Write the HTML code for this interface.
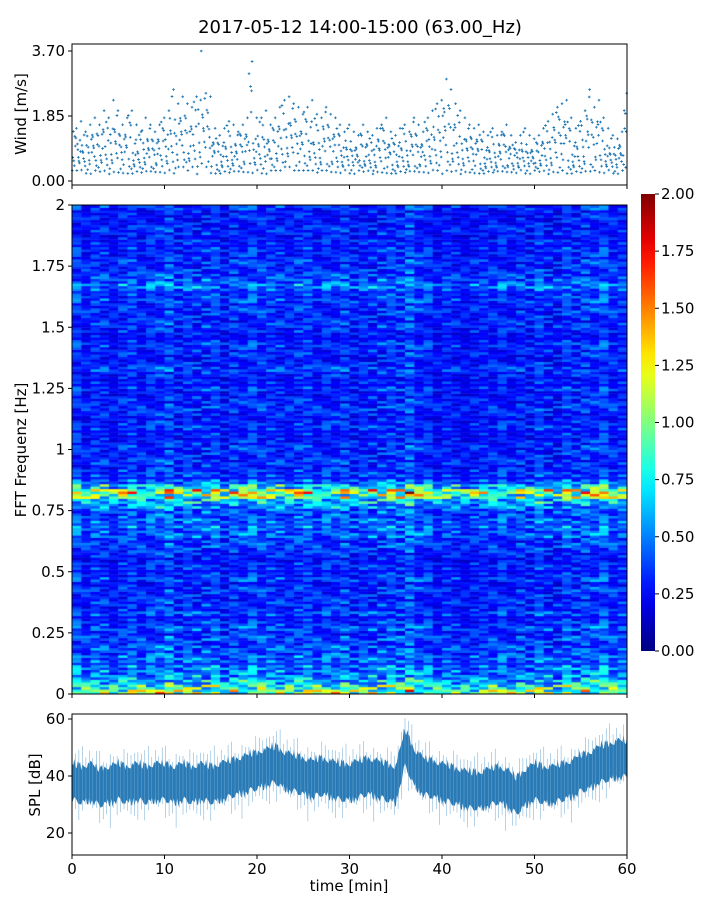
<!DOCTYPE html>
<html><head><meta charset="utf-8">
<style>
body{margin:0;background:#fff;width:720px;height:900px;overflow:hidden;font-family:"DejaVu Sans","Liberation Sans",sans-serif;}
#root{position:relative;width:720px;height:900px;}
svg text{font-family:"DejaVu Sans","Liberation Sans",sans-serif;}
canvas{position:absolute;left:72px;top:205px;}
</style></head>
<body>
<div id="root">
<canvas id="spec" width="555" height="489"></canvas>
<svg id="svg" width="720" height="900" style="position:absolute;left:0;top:0"></svg>
</div>
<script>
// ---------- data ----------
const windMid = [0.9,1.0,0.8,0.9,1.0,0.9,1.1,1.0,1.2,1.1,0.9,1.0,1.1,0.9,0.8,1.0,0.9,0.8,0.9,1.0,
1.1,1.3,1.2,1.4,1.3,1.2,1.4,1.6,1.5,1.4,0.8,0.7,0.8,0.9,0.9,0.8,0.9,1.0,1.1,1.0,
1.0,1.1,0.9,1.0,1.2,1.3,1.4,1.3,1.2,1.1,1.2,1.3,1.1,1.0,1.2,1.1,1.0,0.9,0.8,0.9,
0.8,0.7,0.9,0.8,0.7,0.8,0.9,1.0,0.8,0.7,0.8,0.9,0.8,1.0,0.9,0.8,1.0,1.1,1.2,1.3,
1.5,1.4,1.2,1.1,1.0,0.9,0.8,0.9,0.8,0.7,0.8,0.7,0.8,0.9,0.7,0.6,0.7,0.8,0.7,0.6,
0.7,0.8,0.9,1.0,1.1,1.2,1.3,1.0,0.8,0.9,1.0,1.2,1.1,1.3,1.0,0.8,0.7,0.6,0.7,0.9];
const windRange = [0.6,0.7,0.6,0.7,0.8,0.7,0.9,0.8,1.1,0.9,0.7,0.8,0.9,0.7,0.6,0.8,0.7,0.6,0.7,0.8,
0.9,1.3,1.0,1.0,0.9,0.9,1.0,2.1,1.0,1.0,0.7,0.6,0.7,0.8,0.7,0.6,0.7,0.8,2.3,0.8,
0.8,0.9,0.7,0.8,0.9,1.0,1.0,0.9,0.9,0.8,0.9,1.0,0.8,0.8,0.9,0.8,0.8,0.7,0.6,0.7,
0.6,0.6,0.7,0.6,0.6,0.7,0.7,0.8,0.6,0.6,0.7,0.7,0.6,0.8,0.7,0.6,0.8,0.9,1.0,1.0,
1.4,1.2,1.0,0.9,0.8,0.7,0.7,0.7,0.6,0.6,0.7,0.6,0.6,0.7,0.6,0.5,0.6,0.7,0.6,0.6,
0.6,0.7,0.8,0.9,1.0,1.0,1.0,0.8,0.7,0.8,1.0,1.4,1.0,1.0,0.8,0.7,0.6,0.6,0.7,1.6];
const freqProfile = [1.0,0.85,0.65,0.55,0.5,0.5,0.45,0.45,0.4,0.42,
0.35,0.4,0.32,0.42,0.35,0.32,0.4,0.32,0.35,0.32,
0.32,0.35,0.28,0.38,0.32,0.35,0.32,0.28,0.32,0.35,
0.38,0.35,0.45,0.42,0.5,0.45,0.4,0.42,0.55,0.65,
0.95,1.1,0.7,0.45,0.38,0.35,0.32,0.35,0.32,0.32,
0.35,0.32,0.28,0.32,0.35,0.32,0.28,0.32,0.35,0.32,
0.32,0.28,0.35,0.32,0.28,0.32,0.38,0.32,0.28,0.32,
0.32,0.35,0.32,0.28,0.32,0.35,0.32,0.32,0.35,0.32,
0.38,0.35,0.42,0.5,0.42,0.38,0.35,0.32,0.35,0.32,
0.32,0.35,0.32,0.28,0.32,0.32,0.28,0.3,0.28,0.35];
const timeFactor = [1.0,0.95,1.05,1.0,0.9,1.0,1.1,1.0,0.95,1.05,1.1,1.0,0.95,1.0,1.05,1.0,0.9,0.95,1.0,1.05,
1.1,1.05,1.0,1.0,1.05,1.1,1.0,0.95,1.0,1.0,0.95,0.9,1.0,1.05,1.0,1.1,1.15,1.0,0.95,0.9,
0.95,0.9,0.85,0.9,0.95,1.0,0.95,0.9,0.9,0.95,1.0,0.95,0.9,1.0,1.05,1.0,1.05,1.1,1.05,1.0];
const texture = [1.0,0.6,1.4,0.8,1.2,0.5,1.6,0.9,1.1,0.7,1.3,0.95,0.55,1.25,0.75,1.45,1.05,0.65,1.15];
const splMean = [38,37,38,36,37,38,37,38,37,38,38,37,38,37,38,37,38,39,40,41,
42,43,44,42,41,40,39,40,39,38,38,39,40,39,38,37,50,43,40,39,
38,37,36,35,35,36,37,36,33,36,38,37,37,38,39,41,42,44,45,46,46];
const windTicks = [0,1.85,3.7], windTickLabels=["0.00","1.85","3.70"];
const freqTicks = [0,0.25,0.5,0.75,1,1.25,1.5,1.75,2], freqTickLabels=["0","0.25","0.5","0.75","1","1.25","1.5","1.75","2"];
const cbTicks = [0,0.25,0.5,0.75,1,1.25,1.5,1.75,2];
const splTicks = [20,40,60];
const timeTicks = [0,10,20,30,40,50,60];

// ---------- scales ----------
const X0=72,X1=627;
const xT = t => X0 + (t/60)*(X1-X0);
const yW = v => 181 - v*(130/3.7);
const yF = f => 694 - f*(489/2);
const yC = v => 651 - v*(457/2);
const yS = v => 776 - (v-40)*2.85;
const NS='http://www.w3.org/2000/svg';
const svg=document.getElementById('svg');
function mk(tag,attrs,parent){const e=document.createElementNS(NS,tag);for(const k in attrs)e.setAttribute(k,attrs[k]);(parent||svg).appendChild(e);return e;}
function txt(x,y,s,size,anchor,parent){const e=mk('text',{x:x,y:y,'font-size':size,'text-anchor':anchor,fill:'#000'},parent);e.textContent=s;return e;}
function jet(v){v=Math.max(0,Math.min(1,v));const r=Math.min(4*v-1.5,-4*v+4.5),g=Math.min(4*v-0.5,-4*v+3.5),b=Math.min(4*v+0.5,-4*v+2.5);const c=x=>Math.round(255*Math.max(0,Math.min(1,x)));return `rgb(${c(r)},${c(g)},${c(b)})`;}
const tex = i => texture[((i%texture.length)+texture.length)%texture.length];

let t=txt(360,33,'2017-05-12 14:00-15:00 (63.00_Hz)',18,'middle');


// ---------- wind panel ----------
const gW=mk('g',{});

let wpath='';
windMid.forEach((m,i)=>{
  const lo=Math.max(0.15+0.1*tex(i*3),m-windRange[i]), hi=m+windRange[i];
  const N=9;
  for(let k=0;k<N;k++){
    const f=(tex(i*5+k*3)-0.5)/1.1;
    const v=(k===N-1)?hi:(k===0?lo:lo+(hi-lo)*Math.max(0,Math.min(1,f))*0.85+ (m-lo)*0.15);
    const x=xT(i*0.5+ (k+0.5)/N*0.5), y=yW(v);
    wpath+=`M${(x-1.3).toFixed(1)},${y.toFixed(1)}h2.6M${x.toFixed(1)},${(y-1.3).toFixed(1)}v2.6`;
  }
});
const wp=mk('path',{d:wpath,stroke:'#1f77b4','stroke-width':0.9,fill:'none'},gW);

mk('rect',{x:X0,y:44,width:X1-X0,height:141,fill:'none',stroke:'#000','stroke-width':1,});
windTicks.forEach((v,i)=>{mk('line',{x1:X0-4,x2:X0,y1:yW(v),y2:yW(v),stroke:'#000'});txt(X0-7,yW(v)+5,windTickLabels[i],15,'end');});
timeTicks.forEach(v=>mk('line',{x1:xT(v),x2:xT(v),y1:185,y2:189,stroke:'#000'}));
t=txt(0,0,'Wind [m/s]',15,'middle');t.setAttribute('transform','translate(26,114) rotate(-90)');


// ---------- spectrogram ----------
const ctx=document.getElementById('spec').getContext('2d');
const nR=freqProfile.length*2,nC=timeFactor.length;
for(let r=0;r<nR;r++){for(let c=0;c<nC;c++){
  const v=freqProfile[Math.floor(r/2)]*timeFactor[c]*tex(r*r*3+c*7+r*c);
  ctx.fillStyle=jet(v/2);
  const x0=xT(c*60/nC)-X0,x1=xT((c+1)*60/nC)-X0;
  const y0=yF((r+1)*2/nR)-205,y1=yF(r*2/nR)-205;
  ctx.fillRect(x0,y0,x1-x0+0.5,y1-y0+0.5);
}}
mk('rect',{x:X0,y:205,width:X1-X0,height:489,fill:'none',stroke:'#000',});
freqTicks.forEach((v,i)=>{mk('line',{x1:X0-4,x2:X0,y1:yF(v),y2:yF(v),stroke:'#000'});txt(X0-7,yF(v)+5,freqTickLabels[i],15,'end');});
timeTicks.forEach(v=>mk('line',{x1:xT(v),x2:xT(v),y1:694,y2:698,stroke:'#000'}));
t=txt(0,0,'FFT Frequenz [Hz]',15,'middle');t.setAttribute('transform','translate(26,450) rotate(-90)');


const defs=mk('defs',{});
const lg=mk('linearGradient',{id:'jetg',x1:0,y1:1,x2:0,y2:0},defs);
for(let i=0;i<=20;i++)mk('stop',{offset:i/20,'stop-color':jet(i/20)},lg);
mk('rect',{x:641,y:194,width:14,height:457,fill:'url(#jetg)',stroke:'none',});
cbTicks.forEach(v=>{mk('line',{x1:655,x2:659,y1:yC(v),y2:yC(v),stroke:'#000'});txt(661,yC(v)+5,v.toFixed(2),15,'start');});

// ---------- SPL panel ----------
const sub=8;
let up='',dn='';
const pts=[];
for(let j=0;j<=(splMean.length-1)*sub;j++){
  const i=Math.floor(j/sub), fr=(j%sub)/sub;
  const m=i+1<splMean.length? splMean[i]*(1-fr)+splMean[i+1]*fr : splMean[i];
  pts.push([xT(j/sub), m, 3.5+3*tex(j*3), 3.5+3*tex(j*5+2)]);
}
pts.forEach((p,k)=>{up+=(k?'L':'M')+p[0].toFixed(1)+','+yS(p[1]+p[2]).toFixed(1);});
for(let k=pts.length-1;k>=0;k--)dn+='L'+pts[k][0].toFixed(1)+','+yS(pts[k][1]-pts[k][3]).toFixed(1);
mk('path',{d:up+dn+'Z',fill:'#2a7ab5',});
let sp='';
pts.forEach((p,k)=>{ if(k%3===0){const a=p[2]*(1+0.6*tex(k*7)),b=p[3]*(1+0.6*tex(k*11+4));sp+=`M${p[0].toFixed(1)},${yS(p[1]+a).toFixed(1)}V${yS(p[1]-b).toFixed(1)}`;}});
mk('path',{d:sp,stroke:'#6aa6d2','stroke-width':0.5,fill:'none',});
mk('rect',{x:X0,y:714,width:X1-X0,height:141,fill:'none',stroke:'#000',});
splTicks.forEach(v=>{mk('line',{x1:X0-4,x2:X0,y1:yS(v),y2:yS(v),stroke:'#000'});txt(X0-7,yS(v)+5,String(v),15,'end');});
timeTicks.forEach(v=>{mk('line',{x1:xT(v),x2:xT(v),y1:855,y2:859,stroke:'#000'});txt(xT(v),874,String(v),15,'middle');});
t=txt(0,0,'SPL [dB]',15,'middle');t.setAttribute('transform','translate(40,785) rotate(-90)');

t=txt(349,891,'time [min]',15,'middle');

</script>
</body></html>
